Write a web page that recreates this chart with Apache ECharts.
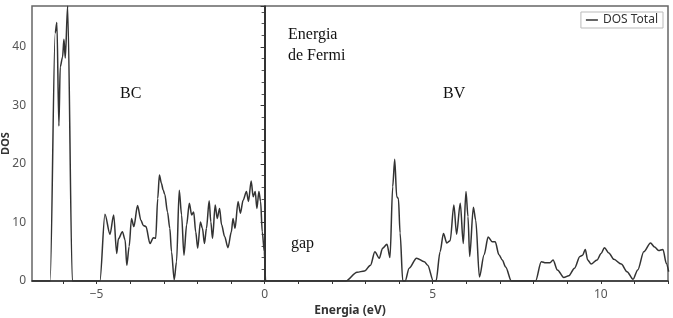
<!DOCTYPE html>
<html>
<head>
<meta charset="utf-8">
<script src="https://cdn.jsdelivr.net/npm/echarts@6/dist/echarts.min.js"></script>
<style>
  html, body { margin: 0; padding: 0; background: #fff; }
  #chart { width: 673px; height: 318px; }
</style>
</head>
<body>
<div id="chart"></div>
<script>
// energia (eV) y DOS
var energia = [
  -6.92, -6.38, -6.23, -6.18, -6.12, -6.08, -6.01, -5.97, -5.93, -5.86, -5.72,
  -4.90, -4.75, -4.60, -4.49, -4.40, -4.35, -4.23, -4.15, -4.10, -4.03,
  -3.96, -3.89, -3.78, -3.68, -3.61, -3.53, -3.41, -3.31, -3.24, -3.18,
  -3.13, -3.07, -3.02, -2.97, -2.89, -2.82, -2.77, -2.69, -2.62, -2.54,
  -2.47, -2.40, -2.32, -2.24, -2.17, -2.11, -2.05, -1.99, -1.91, -1.85,
  -1.79, -1.73, -1.65, -1.60, -1.55, -1.47, -1.41, -1.34, -1.28, -1.19,
  -1.09, -0.99, -0.94, -0.88, -0.79, -0.72, -0.64, -0.54, -0.48, -0.40,
  -0.34, -0.28, -0.23, -0.17, -0.12, -0.07, -0.01, 0.03,
  2.42, 2.75, 2.97, 3.15, 3.28, 3.41, 3.51, 3.64, 3.73, 3.81,
  3.87, 3.93, 3.98, 4.03, 4.11, 4.18, 4.30, 4.52, 4.75, 4.85,
  5.02, 5.10, 5.22, 5.32, 5.42, 5.52, 5.63, 5.71, 5.82, 5.91,
  5.99, 6.05, 6.10, 6.21, 6.28, 6.39, 6.53, 6.65, 6.77, 6.86,
  6.97, 7.07, 7.17, 7.34,
  8.06, 8.23, 8.36, 8.49, 8.58, 8.71, 8.90, 9.05, 9.22, 9.38,
  9.46, 9.54, 9.61, 9.71, 9.89, 10.01, 10.11, 10.24, 10.39, 10.61,
  10.78, 10.96, 11.10, 11.28, 11.48, 11.60, 11.72, 11.85, 11.95, 12.02
];
var dos = [
  0, 0, 42.4, 44.2, 26.5, 36.6, 38.3, 41.3, 38.1, 47, 0,
  0, 11.4, 8.0, 11.3, 4.7, 7.2, 8.4, 7.0, 2.7, 5.9,
  10.7, 9.3, 12.9, 10.4, 9.5, 9.3, 6.4, 7.4, 7.3, 14.1,
  18.1, 16.7, 15.6, 14.8, 11.8, 9.0, 5.0, 0.2, 3.3, 15.5,
  11.3, 4.4, 9.6, 13.3, 11.3, 11.8, 8.4, 5.6, 10.1, 9.0,
  6.4, 9.0, 13.7, 10.1, 7.3, 13.0, 10.7, 12.4, 9.6, 7.6,
  5.7, 8.4, 10.7, 9.0, 13.6, 11.6, 13.8, 15.3, 13.6, 17.1,
  14.4, 15.3, 12.4, 15.3, 13.6, 8.4, 5.0, 0,
  0, 1.5, 1.7, 2.7, 5.0, 3.9, 5.6, 6.3, 4.0, 16.1,
  20.8, 14.4, 14.1, 8.2, 0, 0, 2.2, 3.9, 3.3, 2.7,
  0, 0, 5.0, 8.1, 6.5, 6.9, 13.0, 8.0, 13.3, 6.4,
  15.3, 11.0, 4.2, 12.6, 10.4, 0.7, 4.5, 7.5, 6.7, 6.7,
  4.5, 3.6, 2.4, 0,
  0, 3.3, 3.1, 3.1, 3.6, 1.9, 0.6, 0.9, 2.2, 4.2,
  4.4, 5.4, 3.6, 2.9, 3.6, 4.7, 5.7, 4.8, 3.7, 2.9,
  1.6, 0.3, 1.9, 5.0, 6.5, 5.8, 5.2, 5.4, 3.0, 1.6
];
var xLabels = [-5, 0, 5, 10];
var xTicks = [-6, -5, -4, -3, -2, -1, 0, 1, 2, 3, 4, 5, 6, 7, 8, 9, 10, 11, 12];
var yLabels = [0, 10, 20, 30, 40];

var puntos = energia.map(function (e, i) { return [e, dos[i]]; });

var fuente = '"Noto Sans", "DejaVu Sans", sans-serif';
var serif = '"Liberation Serif", "DejaVu Serif", serif';

var chart = echarts.init(document.getElementById('chart'));
chart.setOption({
  animation: false,
  backgroundColor: '#fff',
  grid: {
    left: 32, right: 5, top: 6, bottom: 37,
    containLabel: false,
    outerBoundsMode: 'none',
    show: true, borderColor: '#666', borderWidth: 1.5
  },
  legend: {
    right: 10, top: 12,
    padding: [2, 5],
    borderColor: '#bbb', borderWidth: 1,
    icon: 'rect', itemWidth: 12, itemHeight: 1.5,
    textStyle: { fontFamily: fuente, fontSize: 12, color: '#333' },
    data: ['DOS Total']
  },
  xAxis: {
    type: 'value',
    min: -6.92, max: 12,
    name: 'Energia (eV)',
    nameLocation: 'middle',
    nameGap: 24,
    nameMoveOverlap: false,
    nameTextStyle: { fontFamily: fuente, fontSize: 12, fontWeight: 'bold', color: '#333' },
    axisLine: { lineStyle: { color: '#333', width: 1.5 } },
    axisTick: { customValues: xTicks, length: 3, lineStyle: { color: '#333' } },
    axisLabel: {
      customValues: xLabels,
      margin: 8,
      fontFamily: fuente, fontSize: 12, color: '#555',
      formatter: function (v) { return String(v).replace('-', '\u2212'); }
    },
    splitLine: { show: false }
  },
  yAxis: {
    type: 'value',
    min: 0, max: 47, interval: 10,
    name: 'DOS',
    nameLocation: 'middle',
    nameGap: 21,
    nameMoveOverlap: false,
    nameTextStyle: { fontFamily: fuente, fontSize: 11, fontWeight: 'bold', color: '#333' },
    axisLine: { show: true, lineStyle: { color: '#333', width: 1.5 } },
    axisTick: { show: true, length: 4, lineStyle: { color: '#333' } },
    minorTick: { show: true, splitNumber: 5, length: 3, lineStyle: { color: '#555' } },
    axisLabel: { customValues: yLabels, margin: 6, fontFamily: fuente, fontSize: 12, color: '#555' },
    splitLine: { show: false }
  },
  graphic: [
    { type: 'text', left: 120, top: 86, style: { text: 'BC', font: '16px ' + serif, fill: '#111' } },
    { type: 'text', left: 443, top: 86, style: { text: 'BV', font: '16px ' + serif, fill: '#111' } },
    { type: 'text', left: 288, top: 27, style: { text: 'Energia', font: '16px ' + serif, fill: '#111' } },
    { type: 'text', left: 288, top: 48, style: { text: 'de Fermi', font: '16px ' + serif, fill: '#111' } },
    { type: 'text', left: 291, top: 236, style: { text: 'gap', font: '16px ' + serif, fill: '#111' } }
  ],
  series: [{
    name: 'DOS Total',
    type: 'line',
    data: puntos,
    showSymbol: false,
    smooth: 0.3,
    smoothMonotone: 'x',
    clip: true,
    color: '#333',
    lineStyle: { color: '#333', width: 1.5 },
    markLine: {
      silent: true,
      symbol: 'none',
      label: { show: false },
      lineStyle: { color: '#333', width: 2, type: 'solid' },
      data: [{ xAxis: 0 }]
    }
  }]
});
</script>
</body>
</html>
